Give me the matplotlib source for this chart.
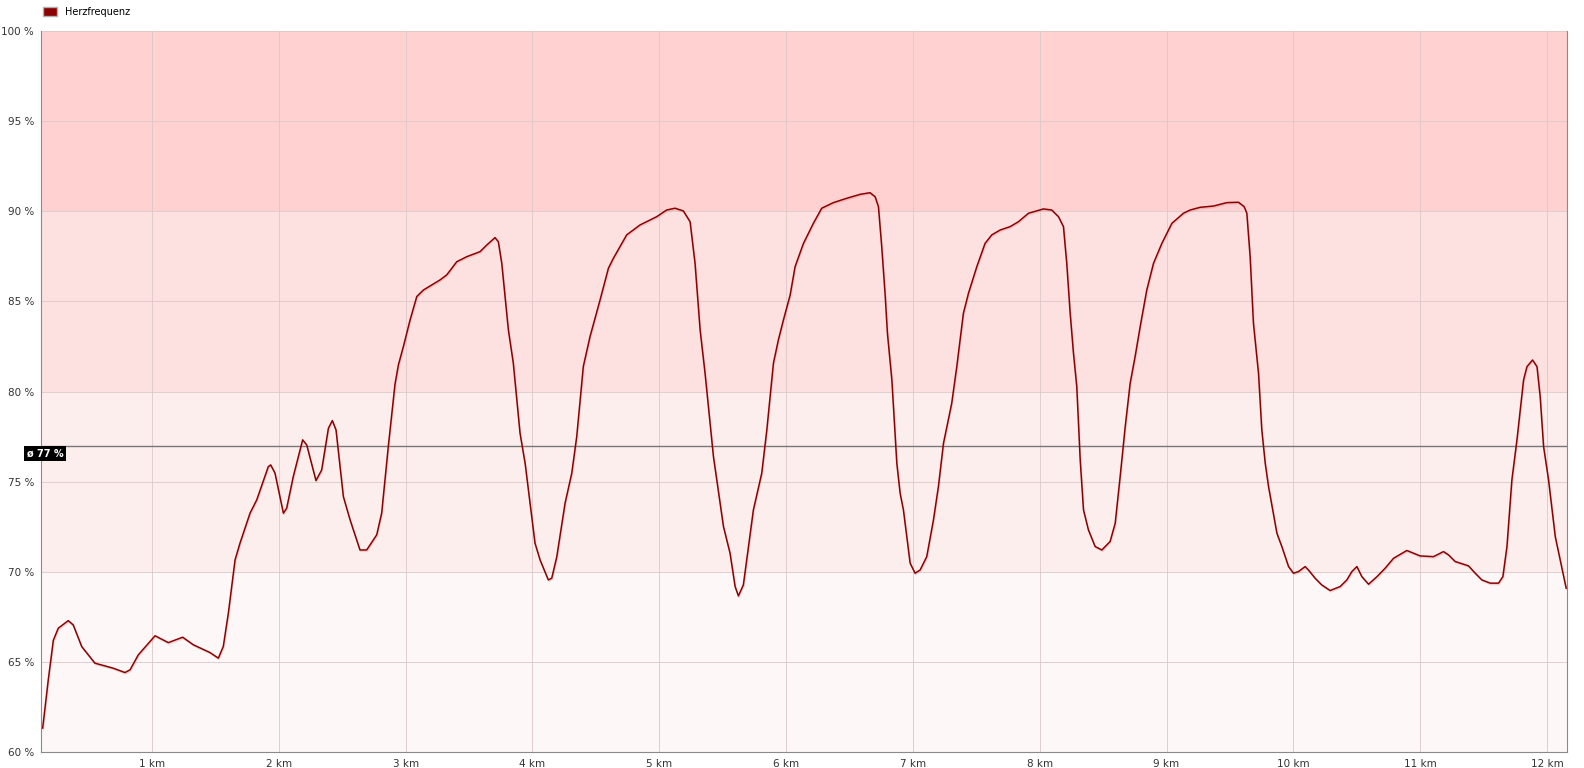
import numpy as np
import matplotlib.pyplot as plt
from matplotlib.patches import Patch
import matplotlib.patheffects as pe

# =====================
# Data
# =====================
km = [0.138, 0.182, 0.222, 0.261, 0.340, 0.379, 0.446, 0.550, 0.695, 0.787, 0.827, 0.892,
      1.024, 1.129, 1.242, 1.326, 1.457, 1.523, 1.562, 1.602, 1.655, 1.694, 1.773, 1.826,
      1.917, 1.936, 1.970, 2.036, 2.062, 2.114, 2.188, 2.220, 2.293, 2.338, 2.391, 2.422,
      2.451, 2.509, 2.562, 2.640, 2.693, 2.772, 2.811, 2.864, 2.916, 2.943, 2.982, 3.035,
      3.088, 3.140, 3.271, 3.324, 3.403, 3.482, 3.587, 3.640, 3.705, 3.731, 3.758, 3.810,
      3.849, 3.902, 3.942, 4.020, 4.060, 4.125, 4.152, 4.192, 4.257, 4.310, 4.349, 4.401,
      4.454, 4.533, 4.599, 4.638, 4.743, 4.848, 4.980, 5.058, 5.124, 5.190, 5.243, 5.282,
      5.322, 5.361, 5.427, 5.453, 5.506, 5.558, 5.598, 5.624, 5.663, 5.742, 5.808, 5.848,
      5.900, 5.939, 5.979, 6.032, 6.071, 6.137, 6.215, 6.281, 6.373, 6.478, 6.584, 6.662,
      6.702, 6.728, 6.754, 6.781, 6.799, 6.834, 6.873, 6.899, 6.925, 6.978, 7.017, 7.057,
      7.109, 7.162, 7.201, 7.241, 7.306, 7.346, 7.398, 7.438, 7.504, 7.569, 7.622, 7.688,
      7.767, 7.832, 7.911, 8.029, 8.095, 8.148, 8.187, 8.213, 8.240, 8.266, 8.292, 8.319,
      8.345, 8.384, 8.437, 8.490, 8.555, 8.595, 8.634, 8.674, 8.713, 8.752, 8.792, 8.844,
      8.897, 8.963, 9.042, 9.133, 9.186, 9.265, 9.370, 9.475, 9.567, 9.612, 9.633, 9.659,
      9.685, 9.725, 9.751, 9.778, 9.804, 9.870, 9.909, 9.962, 10.001, 10.040, 10.093, 10.119,
      10.172, 10.224, 10.290, 10.369, 10.422, 10.461, 10.501, 10.540, 10.593, 10.659, 10.724,
      10.790, 10.895, 10.948, 11.000, 11.105, 11.184, 11.223, 11.276, 11.381, 11.434, 11.486,
      11.552, 11.618, 11.652, 11.684, 11.723, 11.763, 11.815, 11.842, 11.886, 11.921, 11.946,
      11.973, 12.012, 12.065, 12.104, 12.151]
hr_pct = [61.33, 64.0, 66.2, 66.87, 67.29, 67.05, 65.85, 64.93, 64.65, 64.41, 64.56, 65.39,
          66.45, 66.07, 66.37, 65.95, 65.52, 65.21, 65.85, 67.70, 70.66, 71.59, 73.25, 73.99,
          75.83, 75.93, 75.47, 73.25, 73.53, 75.28, 77.32, 77.04, 75.06, 75.65, 77.96, 78.39,
          77.87, 74.17, 72.88, 71.21, 71.21, 72.05, 73.25, 77.0, 80.4, 81.48, 82.49, 83.97,
          85.27, 85.63, 86.19, 86.47, 87.20, 87.48, 87.76, 88.13, 88.54, 88.31, 87.11, 83.42,
          81.57, 77.69, 76.02, 71.59, 70.66, 69.55, 69.64, 70.84, 73.80, 75.47, 77.50, 81.39,
          83.05, 85.08, 86.84, 87.39, 88.69, 89.24, 89.70, 90.07, 90.17, 90.02, 89.42, 87.11,
          83.42, 81.01, 76.39, 75.10, 72.51, 71.03, 69.18, 68.66, 69.27, 73.43, 75.47, 77.87,
          81.57, 82.86, 83.97, 85.36, 86.93, 88.22, 89.33, 90.17, 90.48, 90.72, 90.94, 91.03,
          90.81, 90.26, 88.04, 85.36, 83.23, 80.64, 76.02, 74.36, 73.43, 70.48, 69.92, 70.10,
          70.84, 72.88, 74.73, 77.13, 79.35, 81.39, 84.34, 85.45, 86.93, 88.22, 88.69, 88.96,
          89.15, 89.42, 89.89, 90.13, 90.07, 89.70, 89.15, 87.11, 84.34, 82.12, 80.27, 76.21,
          73.43, 72.32, 71.40, 71.21, 71.68, 72.69, 75.28, 78.05, 80.46, 81.94, 83.60, 85.63,
          87.11, 88.22, 89.33, 89.89, 90.07, 90.22, 90.29, 90.48, 90.50, 90.26, 89.89, 87.48,
          83.79, 81.01, 77.87, 76.02, 74.73, 72.14, 71.40, 70.29, 69.92, 70.01, 70.29, 70.10,
          69.64, 69.27, 68.96, 69.18, 69.55, 70.01, 70.29, 69.73, 69.31, 69.73, 70.20,
          70.75, 71.18, 71.03, 70.88, 70.84, 71.12, 70.94, 70.57, 70.33, 69.92, 69.55,
          69.37, 69.37, 69.73, 71.40, 75.10, 77.32, 80.64, 81.38, 81.75, 81.38, 79.72,
          76.94, 75.10, 71.95, 70.66, 69.09]

avg_pct = 77
zones = [(60, 70), (70, 80), (80, 90), (90, 100)]
zone_colors = ['#fdf7f7', '#fdeeee', '#fde0e0', '#ffd1d1']
x_ticks = list(range(1, 13))
x_labels = [f"{k} km" for k in x_ticks]
y_ticks = list(range(60, 101, 5))
y_labels = [f"{v} %" for v in y_ticks]

# =====================
# Plot
# =====================
fig = plt.figure(figsize=(15.84, 7.68), dpi=100)
ax = fig.add_axes([0.0259, 0.0208, 0.9634, 0.9388])

for (lo, hi), c in zip(zones, zone_colors):
    ax.axhspan(lo, hi, color=c, zorder=0, lw=0)

ax.set_xlim(0.125, 12.158)
ax.set_ylim(60, 100)
ax.set_xticks(x_ticks)
ax.set_xticklabels(x_labels)
ax.set_yticks(y_ticks)
ax.set_yticklabels(y_labels)
ax.grid(True, color='#dcc8c8', lw=0.6, zorder=1)
ax.set_axisbelow(True)
ax.tick_params(length=0, labelsize=7.5, labelcolor='#333333', pad=5)

for s in ['left', 'bottom', 'right']:
    ax.spines[s].set_color('#8a8a8a')
ax.spines['top'].set_visible(False)

# average line
ax.axhline(avg_pct, color='#777777', lw=1, zorder=3)
ax.text(-0.0095, avg_pct - 0.15, f"ø {avg_pct} %", transform=ax.get_yaxis_transform(),
        ha='left', va='top', fontsize=7, color='white', fontweight='bold', zorder=5,
        bbox=dict(facecolor='black', edgecolor='none', boxstyle='square,pad=0.25'),
        clip_on=False)

ax.plot(km, hr_pct, color='#8b0000', lw=1.1, zorder=4, solid_joinstyle='round',
        path_effects=[pe.SimpleLineShadow(offset=(0.5, -1), shadow_color='#c08080', alpha=0.3),
                      pe.Normal()])

ax.legend(handles=[Patch(facecolor='#8b0000', edgecolor='#b0b0b0')], labels=['Herzfrequenz'],
          loc='upper left', bbox_to_anchor=(0.023, 1.0), bbox_transform=fig.transFigure,
          frameon=False, fontsize=7, handlelength=1.4, handleheight=1.0, borderaxespad=0.3)

plt.savefig("out.png", dpi=100)
